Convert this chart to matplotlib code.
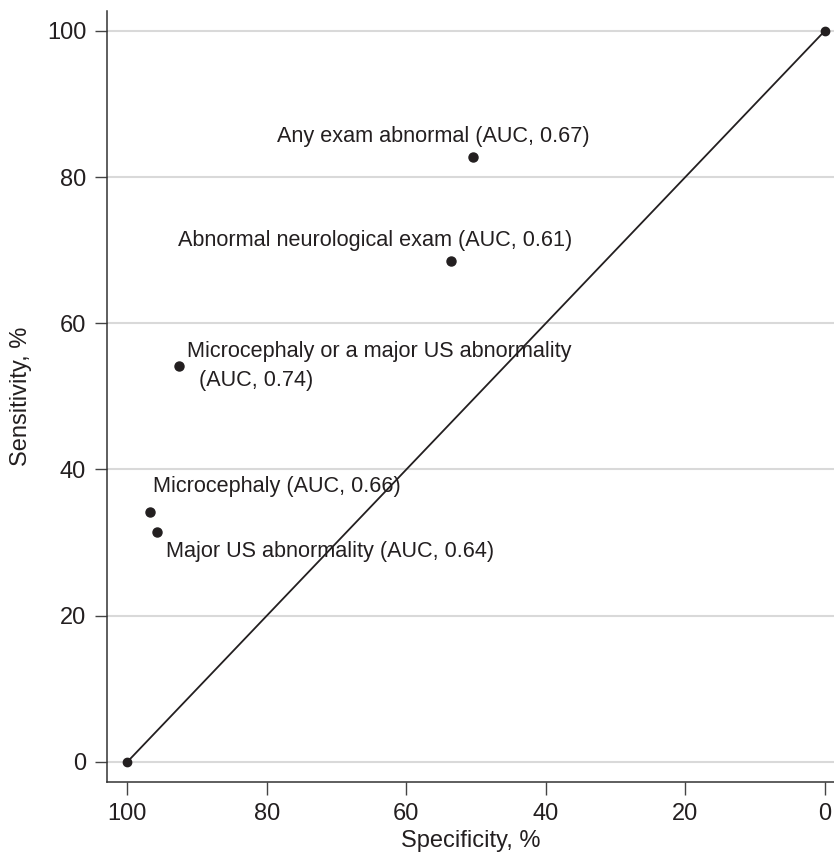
import matplotlib
matplotlib.use('Agg')
import matplotlib.pyplot as plt

plt.rcParams['font.family'] = ['Liberation Sans', 'DejaVu Sans']

# datos
etiquetas = [
    "Any exam abnormal (AUC, 0.67)",
    "Abnormal neurological exam (AUC, 0.61)",
    "Microcephaly or a major US abnormality\n  (AUC, 0.74)",
    "Microcephaly (AUC, 0.66)",
    "Major US abnormality (AUC, 0.64)",
]
especificidad = [50.5, 53.6, 92.6, 96.8, 95.8]
sensibilidad = [82.7, 68.5, 54.2, 34.2, 31.4]
diag_x = [100, 0]
diag_y = [0, 100]
ticks = [0, 20, 40, 60, 80, 100]

# posicion de cada etiqueta respecto a su punto (pixeles)
offsets = [(-39, 21, 'center'), (-76, 21, 'center'), (8, 0, 'left'),
           (3, 25, 'left'), (9, -19, 'left')]

fig = plt.figure(figsize=(8.34, 8.61), dpi=100)
ax = fig.add_axes([0.1283, 0.0914, 0.8717, 0.8958])

color_txt = '#231f20'
ax.plot(diag_x, diag_y, color=color_txt, linewidth=1.3, marker='o',
        markersize=6, zorder=3)
ax.plot(especificidad, sensibilidad, linestyle='none', marker='o',
        color=color_txt, markersize=6.5, zorder=3)

for txt, x, y, (dx, dy, ha) in zip(etiquetas, especificidad, sensibilidad, offsets):
    ax.annotate(txt, (x, y), xytext=(dx, dy), textcoords='offset pixels',
                ha=ha, va='center', fontsize=15.6, color=color_txt,
                linespacing=1.5)

ax.set_xlim(102.9, -1.3)
ax.set_ylim(-2.78, 102.7)
ax.set_xticks(ticks)
ax.set_yticks(ticks)
ax.tick_params(axis='both', direction='out', length=9, width=1,
               color='#444444', labelsize=17, labelcolor=color_txt, pad=6)
ax.grid(axis='y', color='#d9d9d9', linewidth=1.5)
ax.set_axisbelow(True)
for s in ['top', 'right']:
    ax.spines[s].set_visible(False)
for s in ['left', 'bottom']:
    ax.spines[s].set_color('#333333')
    ax.spines[s].set_linewidth(1.1)

ax.set_xlabel('Specificity, %', fontsize=17, color=color_txt, labelpad=3.5)
ax.set_ylabel('Sensitivity, %', fontsize=17, color=color_txt, labelpad=10.5)

fig.savefig('out.png', dpi=100)
